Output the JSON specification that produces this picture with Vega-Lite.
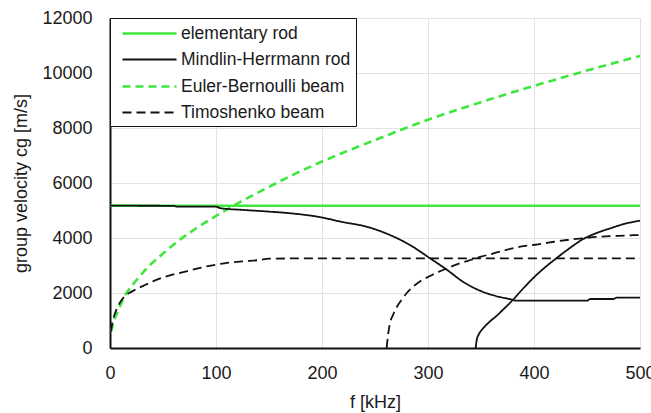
{
  "$schema": "https://vega.github.io/schema/vega-lite/v6.json",
  "width": 530,
  "height": 330,
  "autosize": {"type": "none"},
  "padding": {"left": 110, "top": 18, "right": 11, "bottom": 65},
  "config": {
    "view": {"stroke": null},
    "font": "Liberation Sans",
    "axis": {
      "domainColor": "#111111",
      "domainWidth": 2,
      "ticks": false,
      "labelFlush": false,
      "gridColor": "#e2e2e2",
      "gridWidth": 1,
      "labelFont": "Liberation Sans",
      "labelFontSize": 18,
      "labelColor": "#1a1a1a",
      "titleFont": "Liberation Sans",
      "titleFontSize": 18,
      "titleFontWeight": "normal",
      "titleColor": "#1a1a1a"
    },
    "legend": {
      "orient": "top-left",
      "offset": 0,
      "padding": 5,
      "rowPadding": 7.5,
      "fillColor": "white",
      "strokeColor": "#111111",
      "symbolType": "M -0.333 0 H 5.667",
      "symbolSize": 324,
      "labelOffset": 45,
      "labelFont": "Liberation Sans",
      "labelFontSize": 17.5,
      "labelColor": "#1a1a1a",
      "labelLimit": 300
    }
  },
  "data": {
    "values": [
      {"s": "elementary rod", "b": "E", "f": 0, "v": 5175},
      {"s": "elementary rod", "b": "E", "f": 500, "v": 5175},
      {"s": "Euler-Bernoulli beam", "b": "EB", "f": 1, "v": 600},
      {"s": "Euler-Bernoulli beam", "b": "EB", "f": 3, "v": 900},
      {"s": "Euler-Bernoulli beam", "b": "EB", "f": 8, "v": 1380},
      {"s": "Euler-Bernoulli beam", "b": "EB", "f": 14, "v": 1900},
      {"s": "Euler-Bernoulli beam", "b": "EB", "f": 20, "v": 2230},
      {"s": "Euler-Bernoulli beam", "b": "EB", "f": 27, "v": 2560},
      {"s": "Euler-Bernoulli beam", "b": "EB", "f": 36, "v": 2950},
      {"s": "Euler-Bernoulli beam", "b": "EB", "f": 46, "v": 3300},
      {"s": "Euler-Bernoulli beam", "b": "EB", "f": 55, "v": 3600},
      {"s": "Euler-Bernoulli beam", "b": "EB", "f": 64, "v": 3880},
      {"s": "Euler-Bernoulli beam", "b": "EB", "f": 80, "v": 4320},
      {"s": "Euler-Bernoulli beam", "b": "EB", "f": 100, "v": 4800},
      {"s": "Euler-Bernoulli beam", "b": "EB", "f": 120, "v": 5250},
      {"s": "Euler-Bernoulli beam", "b": "EB", "f": 150, "v": 5860},
      {"s": "Euler-Bernoulli beam", "b": "EB", "f": 175, "v": 6340},
      {"s": "Euler-Bernoulli beam", "b": "EB", "f": 200, "v": 6780},
      {"s": "Euler-Bernoulli beam", "b": "EB", "f": 250, "v": 7560},
      {"s": "Euler-Bernoulli beam", "b": "EB", "f": 300, "v": 8300},
      {"s": "Euler-Bernoulli beam", "b": "EB", "f": 350, "v": 8940},
      {"s": "Euler-Bernoulli beam", "b": "EB", "f": 400, "v": 9530},
      {"s": "Euler-Bernoulli beam", "b": "EB", "f": 450, "v": 10090},
      {"s": "Euler-Bernoulli beam", "b": "EB", "f": 500, "v": 10620},
      {"s": "Timoshenko beam", "b": "T1", "f": 1, "v": 600},
      {"s": "Timoshenko beam", "b": "T1", "f": 1.6, "v": 780},
      {"s": "Timoshenko beam", "b": "T1", "f": 3, "v": 1050},
      {"s": "Timoshenko beam", "b": "T1", "f": 4.7, "v": 1260},
      {"s": "Timoshenko beam", "b": "T1", "f": 7, "v": 1480},
      {"s": "Timoshenko beam", "b": "T1", "f": 11, "v": 1745},
      {"s": "Timoshenko beam", "b": "T1", "f": 15, "v": 1920},
      {"s": "Timoshenko beam", "b": "T1", "f": 20.5, "v": 2050},
      {"s": "Timoshenko beam", "b": "T1", "f": 27, "v": 2180},
      {"s": "Timoshenko beam", "b": "T1", "f": 33, "v": 2290},
      {"s": "Timoshenko beam", "b": "T1", "f": 42, "v": 2450},
      {"s": "Timoshenko beam", "b": "T1", "f": 52, "v": 2590},
      {"s": "Timoshenko beam", "b": "T1", "f": 61, "v": 2690},
      {"s": "Timoshenko beam", "b": "T1", "f": 71, "v": 2775},
      {"s": "Timoshenko beam", "b": "T1", "f": 80, "v": 2870},
      {"s": "Timoshenko beam", "b": "T1", "f": 90, "v": 2957},
      {"s": "Timoshenko beam", "b": "T1", "f": 108, "v": 3080},
      {"s": "Timoshenko beam", "b": "T1", "f": 125, "v": 3150},
      {"s": "Timoshenko beam", "b": "T1", "f": 141, "v": 3200},
      {"s": "Timoshenko beam", "b": "T1", "f": 150, "v": 3250},
      {"s": "Timoshenko beam", "b": "T1", "f": 200, "v": 3260},
      {"s": "Timoshenko beam", "b": "T1", "f": 500, "v": 3260},
      {"s": "Timoshenko beam", "b": "T2", "f": 261, "v": 0},
      {"s": "Timoshenko beam", "b": "T2", "f": 262.5, "v": 530},
      {"s": "Timoshenko beam", "b": "T2", "f": 264, "v": 880},
      {"s": "Timoshenko beam", "b": "T2", "f": 267, "v": 1200},
      {"s": "Timoshenko beam", "b": "T2", "f": 270, "v": 1450},
      {"s": "Timoshenko beam", "b": "T2", "f": 275, "v": 1745},
      {"s": "Timoshenko beam", "b": "T2", "f": 280, "v": 2000},
      {"s": "Timoshenko beam", "b": "T2", "f": 286, "v": 2230},
      {"s": "Timoshenko beam", "b": "T2", "f": 293, "v": 2440},
      {"s": "Timoshenko beam", "b": "T2", "f": 302, "v": 2618},
      {"s": "Timoshenko beam", "b": "T2", "f": 310, "v": 2770},
      {"s": "Timoshenko beam", "b": "T2", "f": 318, "v": 2897},
      {"s": "Timoshenko beam", "b": "T2", "f": 328, "v": 3050},
      {"s": "Timoshenko beam", "b": "T2", "f": 340, "v": 3200},
      {"s": "Timoshenko beam", "b": "T2", "f": 350, "v": 3320},
      {"s": "Timoshenko beam", "b": "T2", "f": 362, "v": 3442},
      {"s": "Timoshenko beam", "b": "T2", "f": 374, "v": 3570},
      {"s": "Timoshenko beam", "b": "T2", "f": 387, "v": 3684},
      {"s": "Timoshenko beam", "b": "T2", "f": 399, "v": 3745},
      {"s": "Timoshenko beam", "b": "T2", "f": 415, "v": 3840},
      {"s": "Timoshenko beam", "b": "T2", "f": 431, "v": 3927},
      {"s": "Timoshenko beam", "b": "T2", "f": 446, "v": 3990},
      {"s": "Timoshenko beam", "b": "T2", "f": 462, "v": 4048},
      {"s": "Timoshenko beam", "b": "T2", "f": 480, "v": 4080},
      {"s": "Timoshenko beam", "b": "T2", "f": 500, "v": 4109},
      {"s": "Mindlin-Herrmann rod", "b": "M1", "f": 0, "v": 5175},
      {"s": "Mindlin-Herrmann rod", "b": "M1", "f": 60, "v": 5170},
      {"s": "Mindlin-Herrmann rod", "b": "M1", "f": 63, "v": 5140},
      {"s": "Mindlin-Herrmann rod", "b": "M1", "f": 100, "v": 5140},
      {"s": "Mindlin-Herrmann rod", "b": "M1", "f": 104, "v": 5085},
      {"s": "Mindlin-Herrmann rod", "b": "M1", "f": 126, "v": 5020},
      {"s": "Mindlin-Herrmann rod", "b": "M1", "f": 150, "v": 4960},
      {"s": "Mindlin-Herrmann rod", "b": "M1", "f": 170, "v": 4900},
      {"s": "Mindlin-Herrmann rod", "b": "M1", "f": 198, "v": 4760},
      {"s": "Mindlin-Herrmann rod", "b": "M1", "f": 217, "v": 4600},
      {"s": "Mindlin-Herrmann rod", "b": "M1", "f": 245, "v": 4380},
      {"s": "Mindlin-Herrmann rod", "b": "M1", "f": 264, "v": 4110},
      {"s": "Mindlin-Herrmann rod", "b": "M1", "f": 283, "v": 3745},
      {"s": "Mindlin-Herrmann rod", "b": "M1", "f": 302, "v": 3260},
      {"s": "Mindlin-Herrmann rod", "b": "M1", "f": 318, "v": 2840},
      {"s": "Mindlin-Herrmann rod", "b": "M1", "f": 333, "v": 2410},
      {"s": "Mindlin-Herrmann rod", "b": "M1", "f": 349, "v": 2085},
      {"s": "Mindlin-Herrmann rod", "b": "M1", "f": 365, "v": 1880},
      {"s": "Mindlin-Herrmann rod", "b": "M1", "f": 377, "v": 1780},
      {"s": "Mindlin-Herrmann rod", "b": "M1", "f": 384, "v": 1721},
      {"s": "Mindlin-Herrmann rod", "b": "M1", "f": 450, "v": 1721},
      {"s": "Mindlin-Herrmann rod", "b": "M1", "f": 453, "v": 1782},
      {"s": "Mindlin-Herrmann rod", "b": "M1", "f": 475, "v": 1782},
      {"s": "Mindlin-Herrmann rod", "b": "M1", "f": 478, "v": 1830},
      {"s": "Mindlin-Herrmann rod", "b": "M1", "f": 500, "v": 1830},
      {"s": "Mindlin-Herrmann rod", "b": "M2", "f": 345, "v": 0},
      {"s": "Mindlin-Herrmann rod", "b": "M2", "f": 346, "v": 300},
      {"s": "Mindlin-Herrmann rod", "b": "M2", "f": 348, "v": 500},
      {"s": "Mindlin-Herrmann rod", "b": "M2", "f": 352, "v": 716},
      {"s": "Mindlin-Herrmann rod", "b": "M2", "f": 358, "v": 950},
      {"s": "Mindlin-Herrmann rod", "b": "M2", "f": 365, "v": 1180},
      {"s": "Mindlin-Herrmann rod", "b": "M2", "f": 372, "v": 1440},
      {"s": "Mindlin-Herrmann rod", "b": "M2", "f": 380, "v": 1745},
      {"s": "Mindlin-Herrmann rod", "b": "M2", "f": 387, "v": 2048},
      {"s": "Mindlin-Herrmann rod", "b": "M2", "f": 399, "v": 2534},
      {"s": "Mindlin-Herrmann rod", "b": "M2", "f": 410, "v": 2920},
      {"s": "Mindlin-Herrmann rod", "b": "M2", "f": 421, "v": 3260},
      {"s": "Mindlin-Herrmann rod", "b": "M2", "f": 434, "v": 3640},
      {"s": "Mindlin-Herrmann rod", "b": "M2", "f": 446, "v": 3953},
      {"s": "Mindlin-Herrmann rod", "b": "M2", "f": 459, "v": 4180},
      {"s": "Mindlin-Herrmann rod", "b": "M2", "f": 472, "v": 4352},
      {"s": "Mindlin-Herrmann rod", "b": "M2", "f": 486, "v": 4520},
      {"s": "Mindlin-Herrmann rod", "b": "M2", "f": 500, "v": 4630}
    ]
  },
  "mark": {"type": "line", "interpolate": "monotone"},
  "encoding": {
    "x": {
      "field": "f",
      "type": "quantitative",
      "scale": {"domain": [0, 500], "nice": false},
      "axis": {"values": [0, 100, 200, 300, 400, 500], "format": "d", "title": "f [kHz]", "labelPadding": 16, "titlePadding": 11}
    },
    "y": {
      "field": "v",
      "type": "quantitative",
      "scale": {"domain": [0, 12000], "nice": false},
      "axis": {"values": [0, 2000, 4000, 6000, 8000, 10000, 12000], "format": "d", "title": "group velocity cg [m/s]", "labelPadding": 18, "titlePadding": 11}
    },
    "color": {
      "field": "s",
      "type": "nominal",
      "scale": {
        "domain": ["elementary rod", "Mindlin-Herrmann rod", "Euler-Bernoulli beam", "Timoshenko beam"],
        "range": ["#3ee63e", "#111111", "#3ee63e", "#111111"]
      },
      "legend": {"title": null}
    },
    "strokeDash": {
      "field": "s",
      "type": "nominal",
      "scale": {
        "domain": ["elementary rod", "Mindlin-Herrmann rod", "Euler-Bernoulli beam", "Timoshenko beam"],
        "range": [[1, 0], [1, 0], [8, 5], [9, 5]]
      },
      "legend": {"title": null}
    },
    "strokeWidth": {
      "field": "s",
      "type": "nominal",
      "scale": {
        "type": "ordinal",
        "domain": ["elementary rod", "Mindlin-Herrmann rod", "Euler-Bernoulli beam", "Timoshenko beam"],
        "range": [2.6, 1.8, 2.6, 1.8]
      },
      "legend": {"title": null}
    },
    "detail": {"field": "b", "type": "nominal"},
    "order": {"field": "f", "type": "quantitative"}
  }
}
